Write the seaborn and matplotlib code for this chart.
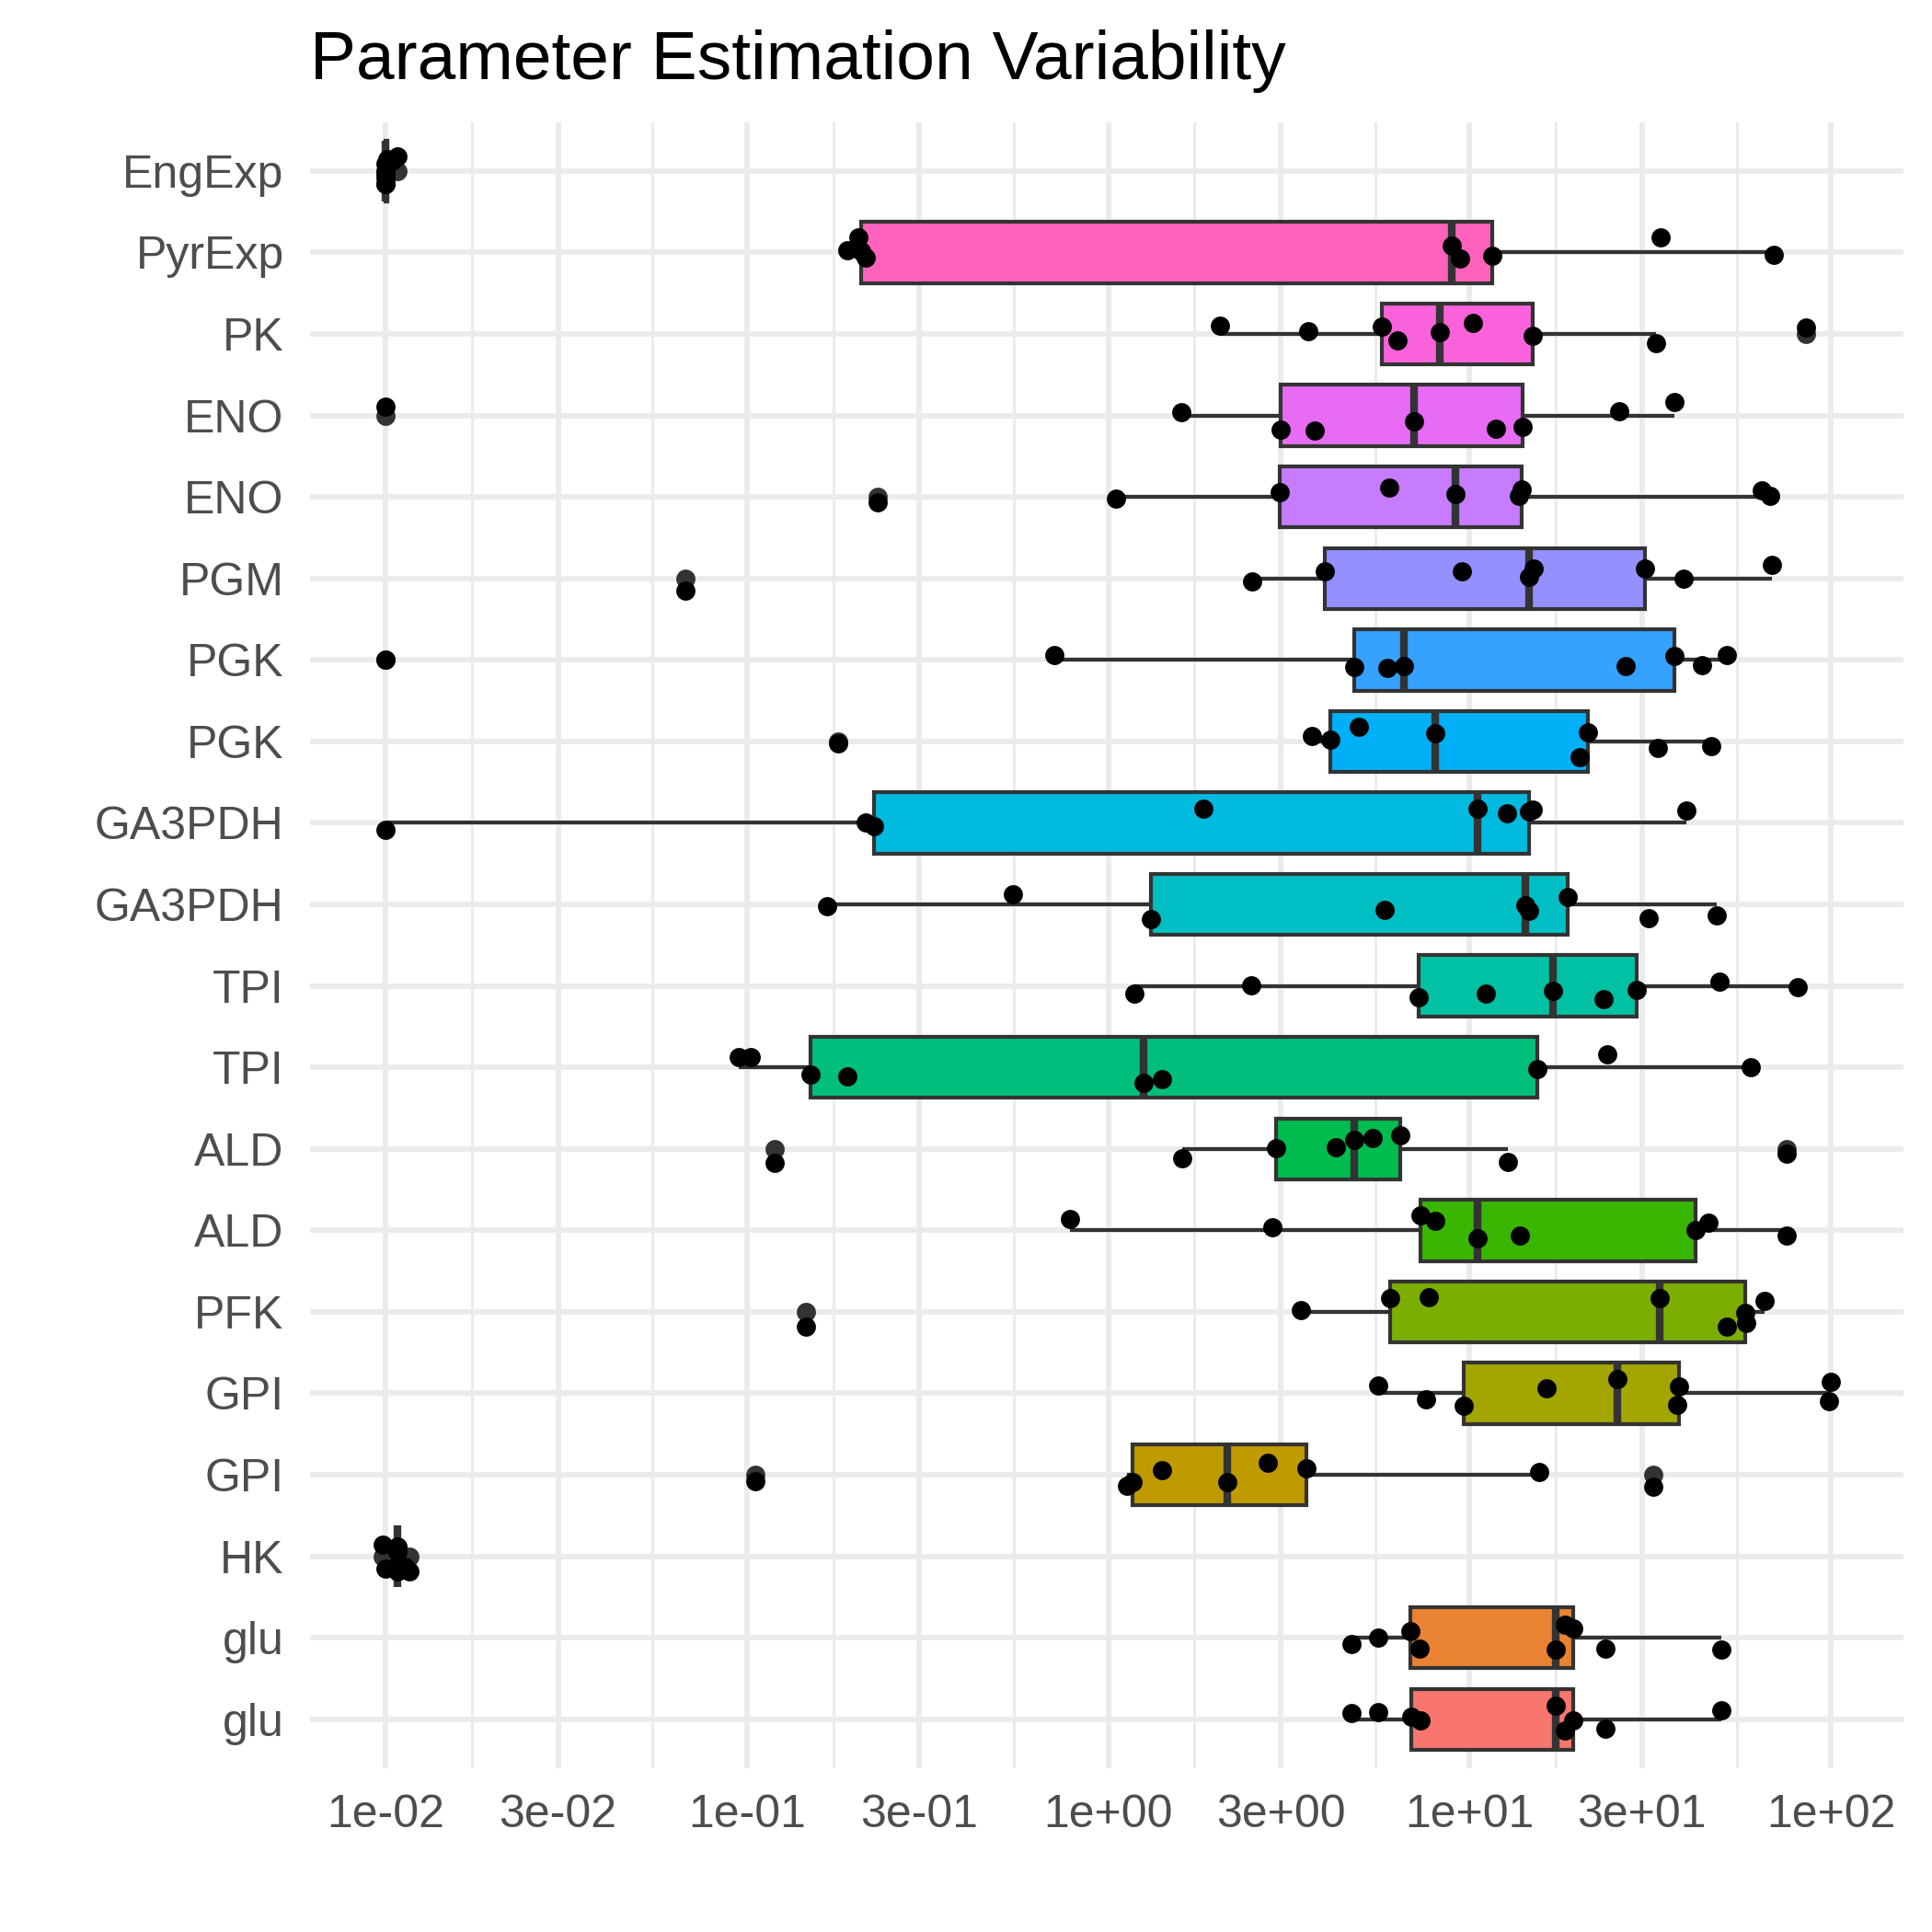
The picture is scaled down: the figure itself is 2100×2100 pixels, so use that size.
import numpy as np
import pandas as pd
import matplotlib
matplotlib.use("Agg")
import matplotlib.pyplot as plt
from matplotlib.ticker import FixedLocator, NullFormatter
import seaborn as sns

# ---------------------------
# Data: parameter estimates per fit, rows listed top to bottom
# ---------------------------
row_keys = ["EngExp", "PyrExp", "PK", "ENO_2", "ENO_1", "PGM", "PGK_2", "PGK_1",
            "GA3PDH_2", "GA3PDH_1", "TPI_2", "TPI_1", "ALD_2", "ALD_1", "PFK",
            "GPI_2", "GPI_1", "HK", "glu_2", "glu_1"]
row_labels = ["EngExp", "PyrExp", "PK", "ENO", "ENO", "PGM", "PGK", "PGK",
              "GA3PDH", "GA3PDH", "TPI", "TPI", "ALD", "ALD", "PFK",
              "GPI", "GPI", "HK", "glu", "glu"]

# ggplot hue palette, 20 levels (glu first = bottom)
row_colors = ["#FF6C91", "#FF62BC", "#FA62DB", "#E76BF3", "#C77CFF", "#9590FF",
              "#35A2FF", "#00B0F6", "#00BAE0", "#00BFC4", "#00C1A3", "#00BF7D",
              "#00BB4E", "#39B600", "#7CAE00", "#A3A500", "#C09B00", "#D89000",
              "#EA8331", "#F8766D"]

eng_exp = [0.0100, 0.0100, 0.0100, 0.0100, 0.0100, 0.0100, 0.0101, 0.0104, 0.0108]
pyr_exp = [0.189, 0.203, 0.2065, 0.213, 8.94, 9.40, 11.56, 33.7, 69.4]
pk = [2.04, 3.58, 5.73, 6.33, 8.29, 10.2, 14.94, 32.7, 85.4]
eno_2 = [0.0100, 1.594, 3.00, 3.72, 7.0, 11.85, 14.0, 25.9, 36.9]
eno_1 = [0.2298, 1.048, 2.985, 5.98, 9.16, 13.69, 13.95, 64.4, 67.7]
pgm = [0.0677, 2.503, 3.98, 9.52, 14.58, 15.04, 30.5, 39.2, 68.5]
pgk_2 = [0.0100, 0.710, 4.78, 5.91, 6.58, 27.1, 36.9, 43.9, 51.4]
pgk_1 = [0.1788, 3.67, 4.11, 4.93, 8.04, 20.2, 21.2, 33.1, 46.5]
ga3pdh_2 = [0.0100, 0.2131, 0.2241, 1.830, 10.52, 12.70, 14.58, 14.94, 39.7]
ga3pdh_1 = [0.1668, 0.5458, 1.313, 5.80, 14.30, 14.58, 18.73, 31.3, 48.3]
tpi_2 = [1.180, 2.489, 7.22, 11.06, 17.05, 23.5, 29.0, 49.2, 80.7]
tpi_1 = [0.0949, 0.1023, 0.150, 0.1891, 1.249, 1.406, 15.42, 24.07, 60.1]
ald_2 = [0.119, 1.604, 2.91, 4.27, 4.78, 5.38, 6.41, 12.78, 75.3]
ald_1 = [0.785, 2.84, 7.31, 8.04, 10.52, 13.77, 42.3, 45.9, 75.3]
pfk = [0.1454, 3.42, 6.02, 7.69, 33.5, 51.4, 57.9, 58.3, 65.6]
gpi_2 = [5.58, 7.55, 9.64, 16.32, 25.6, 37.6, 38.0, 99.0, 100.0]
gpi_1 = [0.1056, 1.129, 1.165, 1.406, 2.14, 2.77, 3.53, 15.61, 32.3]
hk = [0.0098, 0.0100, 0.0108, 0.0108, 0.0108, 0.0108, 0.0108, 0.0113, 0.0116]
glu_2 = [4.72, 5.58, 6.87, 7.27, 17.26, 18.38, 19.33, 23.8, 49.8]
glu_1 = [4.72, 5.58, 6.90, 7.30, 17.26, 18.30, 19.33, 23.7, 49.8]

x_breaks = [0.01, 0.03, 0.1, 0.3, 1, 3, 10, 30, 100]

series = [eng_exp, pyr_exp, pk, eno_2, eno_1, pgm, pgk_2, pgk_1, ga3pdh_2, ga3pdh_1,
          tpi_2, tpi_1, ald_2, ald_1, pfk, gpi_2, gpi_1, hk, glu_2, glu_1]
df = pd.concat([pd.DataFrame({"param": k, "value": v}) for k, v in zip(row_keys, series)],
               ignore_index=True)
palette = dict(zip(row_keys, row_colors))

# ---------------------------
# Plot
# ---------------------------
sns.set_theme(style="white")
plt.rcParams["font.family"] = ["Liberation Sans", "DejaVu Sans"]

fig = plt.figure(figsize=(7, 7), dpi=300)
ax = fig.add_axes([0.1605, 0.0848, 0.8247, 0.852])

sns.boxplot(data=df, x="value", y="param", hue="param", order=row_keys,
            hue_order=row_keys, palette=palette, saturation=1, width=0.75,
            linecolor="#333333", linewidth=1.0, showcaps=False, fliersize=5.0,
            flierprops=dict(marker="o", markerfacecolor="#333333",
                            markeredgecolor="none", markersize=5.0),
            medianprops=dict(linewidth=2.0, color="#333333"),
            log_scale=True, legend=False, ax=ax)

np.random.seed(3)
sns.stripplot(data=df, x="value", y="param", order=row_keys, color="black",
              size=5.0, jitter=0.2, linewidth=0, ax=ax, zorder=5)

# axis limits like ggplot (5% expansion in log space, 0.6 for discrete)
lo, hi = np.log10(df["value"].min()), np.log10(df["value"].max())
span = hi - lo
ax.set_xlim(10 ** (lo - 0.05 * span), 10 ** (hi + 0.05 * span))
ax.set_ylim(len(row_keys) - 1 + 0.6, -0.6)

ax.xaxis.set_major_locator(FixedLocator(x_breaks))
ax.xaxis.set_major_formatter(plt.FuncFormatter(lambda v, p: f"{v:.0e}"))
b = np.array(x_breaks)
ax.xaxis.set_minor_locator(FixedLocator(np.sqrt(b[:-1] * b[1:])))
ax.xaxis.set_minor_formatter(NullFormatter())
ax.set_yticks(range(len(row_keys)))
ax.set_yticklabels(row_labels)

ax.grid(which="major", axis="both", color="#EBEBEB", linewidth=1.4)
ax.grid(which="minor", axis="x", color="#EBEBEB", linewidth=0.7)
ax.set_axisbelow(True)
for s in ax.spines.values():
    s.set_visible(False)
ax.tick_params(axis="both", which="both", length=0, labelsize=12,
               labelcolor="#4D4D4D")
ax.tick_params(axis="x", pad=6.7)
ax.tick_params(axis="y", pad=6.8)
ax.set_xlabel("")
ax.set_ylabel("")
ax.set_title("Parameter Estimation Variability", loc="left", fontsize=18,
             pad=11.2, color="black")

fig.savefig("out.png", dpi=300)
